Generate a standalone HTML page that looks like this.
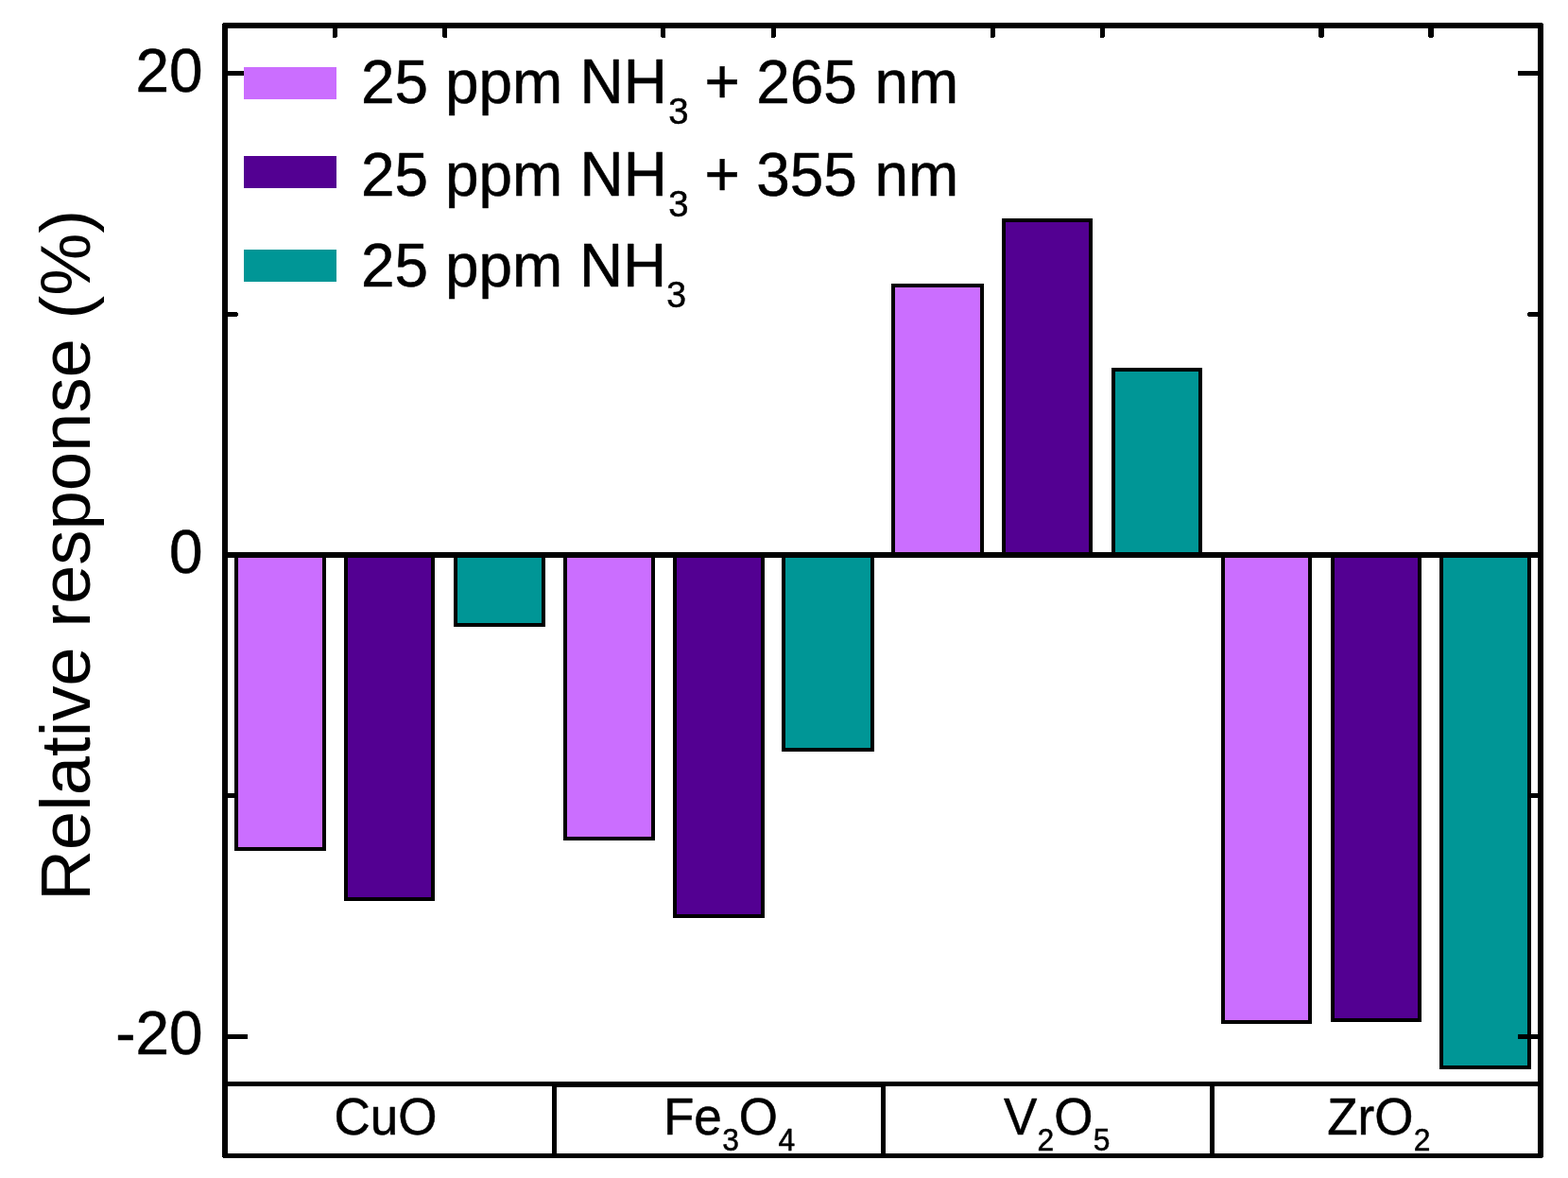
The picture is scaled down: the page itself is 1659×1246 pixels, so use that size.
<!DOCTYPE html>
<html lang="en">
<head>
<meta charset="utf-8">
<title>Relative response (%) of CuO, Fe3O4, V2O5 and ZrO2 to 25 ppm NH3</title>
<style>
html,body{margin:0;padding:0;background:#fff;}
body{width:1659px;height:1246px;overflow:hidden;}
svg{display:block;}
text{font-family:"Liberation Sans",Arial,Helvetica,sans-serif;fill:#000;}
.k{fill:#000;}
.w{stroke:#000;stroke-width:0.5px;stroke-linejoin:round;}
.b{stroke:#000;stroke-width:4;}
</style>
</head>
<body>
<svg width="1659" height="1246" viewBox="0 0 1659 1246">
<rect x="0" y="0" width="1659" height="1246" fill="#fff"/>
<g shape-rendering="crispEdges">
<!-- bars -->
<rect class="b" x="250" y="588" width="93" height="310" fill="#cb6eff"/>
<rect class="b" x="366" y="588" width="92" height="363" fill="#530092"/>
<rect class="b" x="482" y="588" width="93" height="73" fill="#009696"/>
<rect class="b" x="598" y="588" width="93" height="299" fill="#cb6eff"/>
<rect class="b" x="714" y="588" width="93" height="381" fill="#530092"/>
<rect class="b" x="829" y="588" width="94" height="205" fill="#009696"/>
<rect class="b" x="945" y="302" width="94" height="284" fill="#cb6eff"/>
<rect class="b" x="1062" y="233" width="92" height="353" fill="#530092"/>
<rect class="b" x="1178" y="391" width="92" height="195" fill="#009696"/>
<rect class="b" x="1294" y="588" width="92" height="493" fill="#cb6eff"/>
<rect class="b" x="1410" y="588" width="92" height="491" fill="#530092"/>
<rect class="b" x="1525" y="588" width="93" height="541" fill="#009696"/>
<!-- frame -->
<rect class="k" x="235" y="24" width="1398" height="6"/>
<rect class="k" x="235" y="24" width="6" height="1201"/>
<rect class="k" x="1627" y="24" width="6" height="1201"/>
<rect class="k" x="235" y="1220" width="1398" height="5"/>
<rect class="k" x="235" y="1144" width="1398" height="5"/>
<rect class="k" x="235" y="584" width="1398" height="6"/>
<!-- 1px corner notches of the frame -->
<rect x="235" y="24" width="1" height="1" fill="#fff"/>
<rect x="1632" y="24" width="1" height="1" fill="#fff"/>
<rect x="235" y="1224" width="1" height="1" fill="#fff"/>
<rect x="1632" y="1224" width="1" height="1" fill="#fff"/>
<!-- category separators -->
<rect class="k" x="584" y="1144" width="5" height="81"/>
<rect class="k" x="932" y="1144" width="5" height="81"/>
<rect class="k" x="1280" y="1144" width="5" height="81"/>
<rect class="k" x="589" y="1149" width="343" height="1"/>
<!-- top minor ticks (tips lose a corner pixel, as in the reference) -->
<path class="k" d="M352 30H357V39H356V40H352Z"/>
<path class="k" d="M468 30H473V40H469V39H468Z"/>
<path class="k" d="M699 30H704V40H700V39H699Z"/>
<path class="k" d="M816 30H821V39H820V40H816Z"/>
<path class="k" d="M1048 30H1053V39H1052V40H1048Z"/>
<path class="k" d="M1164 30H1169V39H1168V40H1164Z"/>
<path class="k" d="M1395 30H1401V39H1400V40H1396V39H1395Z"/>
<path class="k" d="M1511 30H1517V39H1516V40H1512V39H1511Z"/>
<!-- y ticks -->
<rect class="k" x="241" y="75" width="21" height="5"/>
<rect class="k" x="1606" y="75" width="21" height="5"/>
<rect class="k" x="241" y="1094" width="21" height="5"/>
<rect class="k" x="1606" y="1094" width="21" height="5"/>
<path class="k" d="M241 330H251V331H252V334H251V335H241Z"/>
<path class="k" d="M1627 330H1617V331H1616V334H1617V335H1627Z"/>
<path class="k" d="M241 839H251V840H252V843H251V844H241Z"/>
<path class="k" d="M1627 839H1617V840H1616V843H1617V844H1627Z"/>
<!-- legend swatches -->
<rect x="258" y="71" width="98" height="34" fill="#cb6eff"/>
<rect x="258" y="165" width="98" height="34" fill="#530092"/>
<rect x="258" y="264" width="98" height="34" fill="#009696"/>
</g>
<!-- y tick labels -->
<text class="w" transform="translate(214.6 96.7)" font-size="63.9" text-anchor="end">20</text>
<text class="w" transform="translate(214.6 606.1)" font-size="63.9" text-anchor="end">0</text>
<text class="w" transform="translate(214.6 1114.7)" font-size="63.9" text-anchor="end">-20</text>
<!-- y axis title -->
<text transform="translate(95 952.8) rotate(-90)" font-size="74.3">Relative response (%)</text>
<!-- legend labels -->
<g>
<text class="w" transform="translate(382.0 108.8)" font-size="63.9">25</text>
<text class="w" transform="translate(470.9 108.8)" font-size="63.9">ppm</text>
<text class="w" transform="translate(613.6 108.8) scale(1 1.03)" font-size="63.9">NH<tspan font-size="38.34" dy="21.07" dx="1.3">3</tspan></text>
<text class="w" transform="translate(745.6 108.8) scale(1 1.03)" font-size="63.9">+</text>
<text class="w" transform="translate(800.2 108.8)" font-size="63.9">265</text>
<text class="w" transform="translate(925.5 108.8)" font-size="63.9">nm</text>
</g>
<g>
<text class="w" transform="translate(382.0 206.8)" font-size="63.9">25</text>
<text class="w" transform="translate(470.9 206.8)" font-size="63.9">ppm</text>
<text class="w" transform="translate(613.6 206.8) scale(1 1.03)" font-size="63.9">NH<tspan font-size="38.34" dy="21.07" dx="1.3">3</tspan></text>
<text class="w" transform="translate(745.6 206.8) scale(1 1.03)" font-size="63.9">+</text>
<text class="w" transform="translate(800.2 206.8)" font-size="63.9">355</text>
<text class="w" transform="translate(925.5 206.8)" font-size="63.9">nm</text>
</g>
<g>
<text class="w" transform="translate(382.0 302.9)" font-size="63.9">25</text>
<text class="w" transform="translate(470.9 302.9)" font-size="63.9">ppm</text>
<text class="w" transform="translate(612.9 302.9) scale(1 1.02)" font-size="63.9">NH<tspan font-size="37.38" dy="21.57" dx="0.1">3</tspan></text>
</g>
<!-- category labels -->
<text class="w" transform="translate(353.4 1199.7) scale(1 1.03)" font-size="53.0">CuO</text>
<text class="w" transform="translate(701.9 1199.7) scale(1 1.03)" font-size="53.0">Fe<tspan font-size="31.8" dy="17.09" dx="0.4">3</tspan><tspan dy="-17.09">O</tspan><tspan font-size="31.8" dy="17.09" dx="0.4">4</tspan></text>
<text class="w" transform="translate(1061.9 1199.7) scale(1 1.03)" font-size="53.0">V<tspan font-size="31.8" dy="17.09" dx="0.3">2</tspan><tspan dy="-17.09">O</tspan><tspan font-size="31.8" dy="17.09" dx="0.4">5</tspan></text>
<text class="w" transform="translate(1404.2 1199.7) scale(1 1.03)" font-size="53.0">ZrO<tspan font-size="31.8" dy="17.09" dx="0.3">2</tspan></text>
</svg>
</body>
</html>
